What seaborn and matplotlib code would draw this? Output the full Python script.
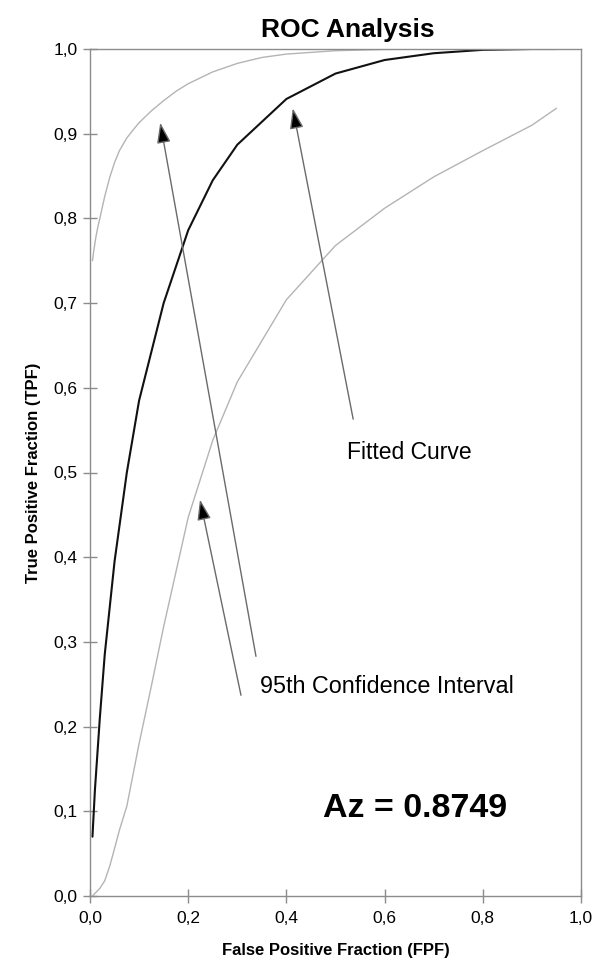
import matplotlib
matplotlib.use("Agg")
import matplotlib.pyplot as plt
import seaborn as sns

# values
fpf_fit = [0.005, 0.01, 0.02, 0.03, 0.05, 0.075, 0.1, 0.15, 0.2, 0.25, 0.3, 0.4, 0.5, 0.6, 0.7, 0.8, 0.9, 0.95]
tpf_fit = [0.07, 0.125, 0.21, 0.285, 0.395, 0.50, 0.585, 0.70, 0.786, 0.845, 0.887, 0.941, 0.971, 0.987, 0.995, 0.999, 1.0, 1.0]

fpf_upper = [0.005, 0.008, 0.012, 0.016, 0.02, 0.025, 0.03, 0.04, 0.05, 0.06, 0.075, 0.09, 0.1,
             0.125, 0.15, 0.175, 0.2, 0.25, 0.3, 0.35, 0.4, 0.5, 0.6, 0.7, 0.8, 0.9, 0.95]
tpf_upper = [0.75, 0.763, 0.778, 0.79, 0.80, 0.813, 0.826, 0.848, 0.866, 0.88, 0.895, 0.906, 0.913,
             0.927, 0.939, 0.95, 0.959, 0.973, 0.983, 0.99, 0.994, 0.998, 0.9995, 1.0, 1.0, 1.0, 1.0]

fpf_lower = [0.005, 0.01, 0.02, 0.03, 0.04, 0.05, 0.06, 0.075, 0.1, 0.125, 0.15, 0.2, 0.25, 0.3, 0.4, 0.5, 0.6, 0.7, 0.8, 0.9, 0.95]
tpf_lower = [0.0, 0.003, 0.009, 0.018, 0.035, 0.056, 0.078, 0.106, 0.18, 0.248, 0.318, 0.447, 0.538, 0.607, 0.704, 0.768, 0.812, 0.849, 0.88, 0.91, 0.93]

x_ticks = [0.0, 0.2, 0.4, 0.6, 0.8, 1.0]
y_ticks = [0.0, 0.1, 0.2, 0.3, 0.4, 0.5, 0.6, 0.7, 0.8, 0.9, 1.0]
az_value = "0.8749"

# arrows: (tip, tail) in data units
fit_arrow = ((0.413, 0.930), (0.536, 0.563))
ci_arrows = [((0.143, 0.913), (0.338, 0.283)), ((0.224, 0.468), (0.3075, 0.237))]

sns.set_theme(style="white")
plt.rcParams["font.family"] = ["Liberation Sans", "DejaVu Sans"]
plt.rcParams["text.color"] = "black"
plt.rcParams["axes.labelcolor"] = "black"

fig = plt.figure(figsize=(5.95, 9.6), dpi=100)
ax = fig.add_axes([90 / 595, 64 / 960, 491 / 595, 847 / 960])

sns.lineplot(x=fpf_upper, y=tpf_upper, color="#b4b4b4", linewidth=1.0,
             estimator=None, sort=False, ax=ax)
sns.lineplot(x=fpf_lower, y=tpf_lower, color="#b4b4b4", linewidth=1.0,
             estimator=None, sort=False, ax=ax)
sns.lineplot(x=fpf_fit, y=tpf_fit, color="#111111", linewidth=1.5,
             estimator=None, sort=False, ax=ax)

arrow_props = dict(arrowstyle="-|>,head_length=1.25,head_width=0.42", mutation_scale=10,
                   facecolor="black", edgecolor="#6a6a6a", lw=1.0, shrinkA=0, shrinkB=0)
for tip, tail in [fit_arrow] + ci_arrows:
    ax.annotate("", xy=tip, xytext=tail, arrowprops=arrow_props)

ax.text(0.523, 0.524, "Fitted Curve", fontsize=16.5, ha="left", va="center")
ax.text(0.346, 0.247, "95th Confidence Interval", fontsize=16.8, ha="left", va="center")
ax.text(0.4745, 0.103, f"Az = {az_value}", fontsize=24.5, fontweight="bold",
        ha="left", va="center")

ax.set_xlim(0, 1)
ax.set_ylim(0, 1)
ax.set_xticks(x_ticks)
ax.set_yticks(y_ticks)
ax.set_xticklabels([f"{v:.1f}".replace(".", ",") for v in x_ticks])
ax.set_yticklabels([f"{v:.1f}".replace(".", ",") for v in y_ticks])
ax.tick_params(axis="both", bottom=True, left=True, direction="inout", length=10, width=1,
               color="#8c8c8c", labelsize=12.5, pad=4, labelcolor="black")
ax.tick_params(axis="x", pad=6)
for spine in ax.spines.values():
    spine.set_color("#8c8c8c")
    spine.set_linewidth(1.0)

ax.set_xlabel("False Positive Fraction (FPF)", fontsize=12, fontweight="bold")
ax.set_ylabel("True Positive Fraction (TPF)", fontsize=12, fontweight="bold")
ax.xaxis.set_label_coords(0.5, -0.055)
ax.yaxis.set_label_coords(-0.1, 0.5)
ax.set_title("ROC Analysis", fontsize=19, fontweight="bold", x=0.525, pad=9)

fig.savefig("out.png", dpi=100)
